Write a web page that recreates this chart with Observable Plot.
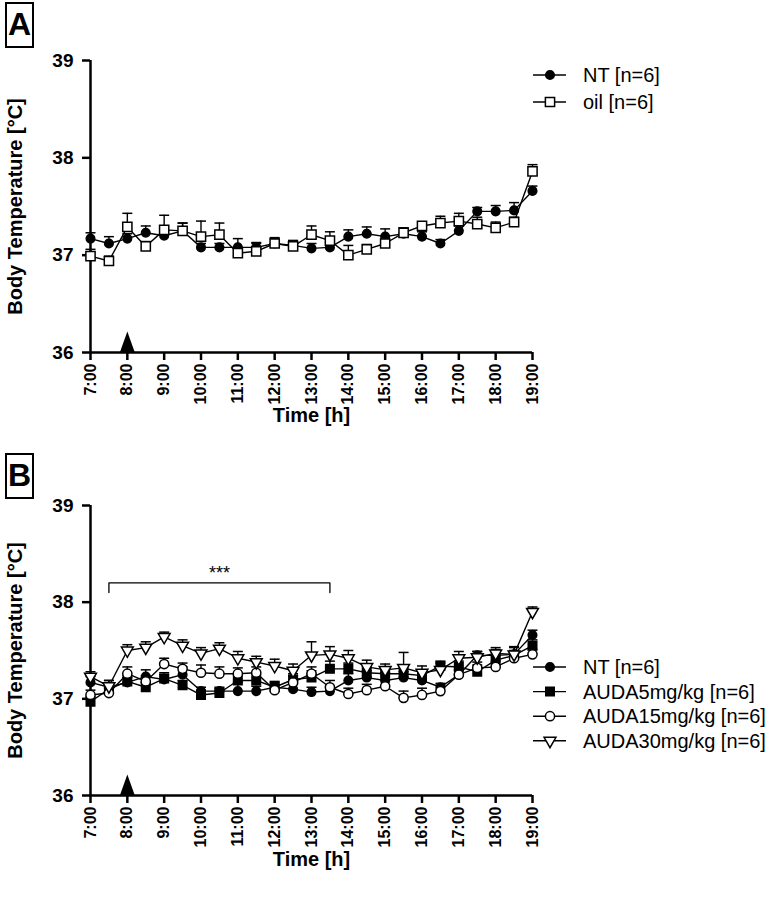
<!DOCTYPE html>
<html><head><meta charset="utf-8">
<script src="https://cdn.jsdelivr.net/npm/d3@7"></script>
<script src="https://cdn.jsdelivr.net/npm/@observablehq/plot@0.6"></script>
<style>
body{margin:0;background:#fff;}
#wrap{position:relative;width:780px;height:897px;font-family:"Liberation Sans",Arial,sans-serif;overflow:hidden;background:#fff;}
.panel{position:absolute;left:0;}
.tag{position:absolute;box-sizing:border-box;border:2.5px solid #000;font-weight:bold;font-size:32px;line-height:40px;text-align:center;width:29px;height:46px;background:#fff;z-index:5;}
#legend{position:absolute;left:0;top:0;z-index:4;}
</style></head>
<body>
<div id="wrap">
  <div id="pA" class="panel" style="top:0px;"></div>
  <div id="pB" class="panel" style="top:450px;"></div>
  <svg id="legend" width="780" height="897"></svg>
  <div class="tag" style="left:5px;top:2px;">A</div>
  <div class="tag" style="left:5px;top:453px;">B</div>
</div>
<script>
// ---- data ----
const times = [7, 7.5, 8, 8.5, 9, 9.5, 10, 10.5, 11, 11.5, 12, 12.5, 13, 13.5, 14, 14.5, 15, 15.5, 16, 16.5, 17, 17.5, 18, 18.5, 19];
const hourTicks = [7, 8, 9, 10, 11, 12, 13, 14, 15, 16, 17, 18, 19];
const hourLabels = ["7:00","8:00","9:00","10:00","11:00","12:00","13:00","14:00","15:00","16:00","17:00","18:00","19:00"];
const tempTicks = [36, 37, 38, 39];

const NT     = [37.17,37.12,37.17,37.23,37.20,37.25,37.08,37.08,37.08,37.08,37.12,37.10,37.07,37.08,37.19,37.22,37.19,37.22,37.19,37.12,37.25,37.45,37.45,37.46,37.66];
const NT_sem = [0.06,0.07,0.05,0.07,0.05,0.08,0.04,0.04,0.09,0.05,0.06,0.05,0.05,0.05,0.07,0.07,0.08,0.06,0.05,0.04,0.05,0.04,0.06,0.08,0.05];
const oil     = [36.99,36.94,37.29,37.09,37.26,37.25,37.19,37.21,37.02,37.04,37.12,37.09,37.21,37.15,37.00,37.06,37.12,37.23,37.30,37.33,37.35,37.32,37.28,37.34,37.86];
const oil_sem = [0.07,0.05,0.14,0.05,0.15,0.08,0.16,0.12,0.06,0.08,0.05,0.06,0.09,0.09,0.10,0.05,0.04,0.05,0.04,0.07,0.08,0.07,0.06,0.05,0.07];

const AUDA5      = [36.97,37.10,37.18,37.12,37.21,37.14,37.04,37.06,37.19,37.19,37.12,37.20,37.22,37.31,37.31,37.27,37.26,37.26,37.24,37.34,37.33,37.28,37.40,37.45,37.55];
const AUDA5_sem  = [0.05,0.05,0.06,0.05,0.06,0.05,0.05,0.05,0.06,0.06,0.05,0.06,0.07,0.08,0.06,0.06,0.06,0.06,0.05,0.05,0.06,0.07,0.06,0.05,0.06];
const AUDA15     = [37.04,37.06,37.26,37.18,37.36,37.31,37.27,37.26,37.26,37.27,37.09,37.17,37.26,37.12,37.05,37.09,37.13,37.01,37.04,37.08,37.25,37.32,37.33,37.42,37.46];
const AUDA15_sem = [0.05,0.05,0.07,0.06,0.06,0.06,0.08,0.07,0.06,0.06,0.06,0.07,0.07,0.07,0.06,0.06,0.06,0.07,0.07,0.06,0.05,0.06,0.06,0.05,0.05];
const AUDA30     = [37.23,37.13,37.50,37.53,37.64,37.55,37.47,37.52,37.42,37.38,37.34,37.29,37.45,37.46,37.42,37.33,37.30,37.32,37.27,37.30,37.42,37.43,37.47,37.46,37.90];
const AUDA30_sem = [0.05,0.06,0.06,0.06,0.05,0.06,0.06,0.06,0.07,0.06,0.07,0.07,0.14,0.08,0.08,0.07,0.06,0.16,0.07,0.07,0.07,0.06,0.06,0.07,0.05];

const injectionTime = [8];
const bracketX = [7.5, 7.5, 13.5, 13.5];
const bracketY = [38.10, 38.20, 38.20, 38.10];
const starText = "***";

// ---- symbols ----
const capSym = {draw(ctx, size){ const h = Math.sqrt(size/Math.PI); ctx.moveTo(-h,0); ctx.lineTo(h,0); }};
const downTri = {draw(ctx, size){ const s = Math.sqrt(size/Math.PI)*2.7; const h = s*Math.sqrt(3)/2;
  ctx.moveTo(-s/2,-h/3); ctx.lineTo(s/2,-h/3); ctx.lineTo(0,2*h/3); ctx.closePath(); }};
const arrowSym = {draw(ctx, size){ ctx.moveTo(-7.5,0); ctx.lineTo(7.5,0); ctx.lineTo(0,-21); ctx.closePath(); }};
const circleSym = d3.symbolCircle, squareSym = d3.symbolSquare;

const seriesA = [
  {key:"NT [n=6]", values:NT, sem:NT_sem, symbol:circleSym, r:4.3, fill:"black"},
  {key:"oil [n=6]", values:oil, sem:oil_sem, symbol:squareSym, r:5.2, fill:"white"}
];
const seriesB = [
  {key:"NT [n=6]", values:NT, sem:NT_sem, symbol:circleSym, r:4.3, fill:"black"},
  {key:"AUDA5mg/kg [n=6]", values:AUDA5, sem:AUDA5_sem, symbol:squareSym, r:4.8, fill:"black"},
  {key:"AUDA15mg/kg [n=6]", values:AUDA15, sem:AUDA15_sem, symbol:circleSym, r:4.6, fill:"white"},
  {key:"AUDA30mg/kg [n=6]", values:AUDA30, sem:AUDA30_sem, symbol:downTri, r:4.4, fill:"white"}
];

const FONT = '"Liberation Sans", Arial, sans-serif';

function panel(series, o) {
  const rows = series.flatMap(s => times.map((t,i) => ({t, v:s.values[i], e:s.values[i]+s.sem[i], key:s.key})));
  const marks = [
    Plot.axisY({ticks:tempTicks, tickSize:8, tickPadding:9, fontSize:19, fontWeight:"bold", strokeWidth:2.5, label:null, tickFormat:d=>String(d)}),
    Plot.axisX({ticks:hourTicks, tickFormat:d=>hourLabels[hourTicks.indexOf(d)], tickRotate:-90, tickSize:8, tickPadding:3, fontSize:16, fontWeight:"bold", strokeWidth:2.5, label:null}),
    Plot.ruleX([7], {strokeWidth:2.5}),
    Plot.ruleY([36], {strokeWidth:2.5}),
    Plot.text(["Time [h]"], {frameAnchor:"bottom", dy:o.xlabDy, lineAnchor:"middle", textAnchor:"middle", fontSize:20, fontWeight:"bold", text:d=>d}),
    Plot.text(["Body Temperature [°C]"], {frameAnchor:"left", dx:-75, rotate:-90, textAnchor:"middle", lineAnchor:"middle", fontSize:20, fontWeight:"bold", text:d=>d}),
    Plot.line(rows, {x:"t", y:"v", z:"key", stroke:"black", strokeWidth:1.4}),
    Plot.ruleX(rows, {x:"t", y1:"v", y2:"e", stroke:"black", strokeWidth:1.4}),
    Plot.dot(rows, {x:"t", y:"e", symbol:capSym, r:5, stroke:"black", strokeWidth:1.5, fill:"none"}),
    ...series.map(s => Plot.dot(rows.filter(d => d.key === s.key), {x:"t", y:"v", symbol:s.symbol, r:s.r, fill:s.fill, stroke:"black", strokeWidth:1.5})),
    Plot.dot(injectionTime, {x:d=>d, y:()=>36, symbol:arrowSym, r:5, fill:"black", stroke:"none"})
  ];
  if (o.bracket) {
    marks.push(Plot.line(bracketX.map((x,i)=>({x, y:bracketY[i]})), {x:"x", y:"y", stroke:"black", strokeWidth:1.3}));
    marks.push(Plot.text([starText], {x:()=> (bracketX[0]+bracketX[3])/2, y:()=>bracketY[1]+0.1, text:d=>d, fontSize:18, fontWeight:"normal"}));
  }
  return Plot.plot({
    width:780, height:o.height,
    marginLeft:90, marginRight:248, marginTop:o.mt, marginBottom:o.mb,
    style:{fontFamily:FONT, fontSize:"19px", background:"transparent", color:"black", overflow:"visible"},
    x:{domain:[7,19]}, y:{domain:[36,39]},
    marks
  });
}

document.getElementById("pA").appendChild(panel(seriesA, {height:440, mt:60, mb:88, xlabDy:63}));
document.getElementById("pB").appendChild(panel(seriesB, {height:447, mt:55, mb:102, xlabDy:64, bracket:true}));

// ---- legends ----
function legend(svg, series, y0, dy) {
  series.forEach((s, i) => {
    const y = y0 + i*dy;
    const g = svg.append("g").attr("transform", `translate(0,${y})`);
    g.append("line").attr("x1",533).attr("x2",566).attr("y1",0).attr("y2",0).attr("stroke","black").attr("stroke-width",1.4);
    g.append("path").attr("transform","translate(550,0)")
      .attr("d", d3.symbol(s.symbol, Math.PI*s.r*s.r)())
      .attr("fill", s.fill).attr("stroke","black").attr("stroke-width",1.5);
    g.append("text").attr("x",583).attr("y",0).attr("dy","0.35em")
      .attr("font-family",FONT).attr("font-size",20).text(s.key);
  });
}
const lsvg = d3.select("#legend");
legend(lsvg, seriesA, 75, 27);
legend(lsvg, seriesB, 667, 24.6);
</script>
</body></html>
